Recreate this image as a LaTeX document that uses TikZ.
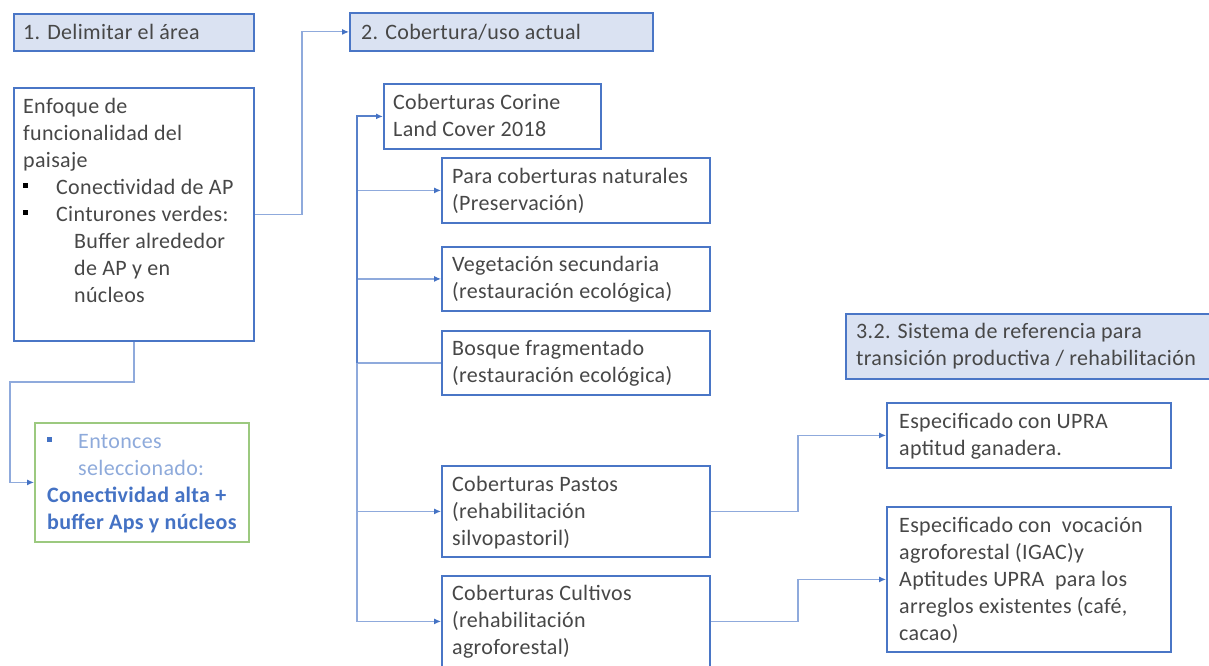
\documentclass[tikz,border=0pt]{standalone}
\usepackage{fontspec}
\setmainfont{Carlito}[LetterSpace=1.5]
\usetikzlibrary{arrows.meta,positioning,calc}
\definecolor{bord}{HTML}{4A76C6}
\definecolor{hfill}{HTML}{DAE2F2}
\definecolor{connc}{HTML}{8FAADC}
\definecolor{arrc}{HTML}{4472C4}
\definecolor{txtc}{HTML}{474747}
\definecolor{grn}{HTML}{9CC97F}
\definecolor{lblue}{HTML}{8EAADB}
\newcommand{\sqbul}[1]{\raisebox{6.5pt}{\color{#1}\rule{4.5pt}{4.5pt}}}
\begin{document}
\begin{tikzpicture}[x=1pt,y=-1pt,
  box/.style={draw=bord,line width=1.8pt,fill=white,rectangle,inner sep=0pt,anchor=north west},
  hbox/.style={box,fill=hfill},
  gbox/.style={box,draw=grn},
  txt/.style={anchor=north west,inner sep=0pt,align=left,text=txtc,font=\fontsize{22}{27}\selectfont},
  conn/.style={draw=connc,line width=1.2pt},
  arr/.style={conn,-{Latex[length=7pt,width=6pt,color=arrc]}},
  trunk/.style={draw=arrc!90,line width=2pt,-{Latex[length=7pt,width=6pt,color=arrc]}}
]
\useasboundingbox (0,0) rectangle (1209,666);
\begin{scope}
\clip (0,0) rectangle (1209,666);
% boxes
\node[hbox,minimum width=240pt,minimum height=37pt] (b1) at (13,13) {};
\node[hbox,minimum width=303pt,minimum height=38pt] (b2) at (349,12) {};
\node[box,minimum width=240pt,minimum height=253pt] (enf) at (13,87) {};
\node[gbox,minimum width=214pt,minimum height=119pt] (grn) at (34,422) {};
\node[box,minimum width=217pt,minimum height=65pt] (cor) at (383,83) {};
\node[box,minimum width=268pt,minimum height=65pt] (para) at (441,157) {};
\node[box,minimum width=268pt,minimum height=64pt] (veg) at (441,246) {};
\node[box,minimum width=268pt,minimum height=64pt] (bos) at (441,330) {};
\node[box,minimum width=268pt,minimum height=91pt] (pas) at (441,465) {};
\node[box,minimum width=268pt,minimum height=91pt] (cul) at (441,575) {};
\node[hbox,minimum width=380pt,minimum height=65pt] (ref) at (845,313) {};
\node[box,minimum width=284pt,minimum height=65pt] (upra) at (886,402) {};
\node[box,minimum width=284pt,minimum height=145pt] (voc) at (886,506) {};
% texts
\node[txt] (t1) at (23,20) {\strut 1. Delimitar el área};
\node[txt] (t2) at (361,20) {\strut 2. Cobertura/uso actual};
\node[txt] (tenf) at (23,94) {\strut Enfoque de\\funcionalidad del\\paisaje\\
\makebox[33pt][l]{\sqbul{black}}Conectividad de AP\\
\makebox[33pt][l]{\sqbul{black}}Cinturones verdes:\\
\hspace*{51pt}Buffer alrededor\\
\hspace*{51pt}de AP y en\\
\hspace*{51pt}núcleos};
\node[txt] (tgrn) at (47,429) {\strut\makebox[31pt][l]{\sqbul{arrc}}\textcolor{lblue}{Entonces}\\
\hspace*{31pt}\textcolor{lblue}{seleccionado:}\\
\textcolor{arrc}{\bfseries Conectividad alta +}\\
\textcolor{arrc}{\bfseries buffer Aps y núcleos}};
\node[txt] (tcor) at (393,90) {\strut Coberturas Corine\\Land Cover 2018};
\node[txt] (tpara) at (452,164) {\strut Para coberturas naturales\\(Preservación)};
\node[txt] (tveg) at (452,252) {\strut Vegetación secundaria\\(restauración ecológica)};
\node[txt] (tbos) at (452,336) {\strut Bosque fragmentado\\(restauración ecológica)};
\node[txt] (tpas) at (452,472) {\strut Coberturas Pastos\\(rehabilitación\\silvopastoril)};
\node[txt] (tcul) at (452,581) {\strut Coberturas Cultivos\\(rehabilitación\\agroforestal)};
\node[txt] (tref) at (856,319) {\strut 3.2. Sistema de referencia para\\transición productiva / rehabilitación};
\node[txt] (tupra) at (899,409) {\strut Especificado con UPRA\\aptitud ganadera.};
\node[txt] (tvoc) at (899,513) {\strut Especificado con\ \ vocación\\agroforestal (IGAC)y\\Aptitudes UPRA\ \ para los\\arreglos existentes (café,\\cacao)};
% coordinates
\coordinate (e1) at (302,0);
\coordinate (e2) at (0,382);
\coordinate (e3) at (10,0);
\coordinate (tr) at (357,0);
\coordinate (e4) at (798,0);
% connectors
\draw[arr] (enf.east) -- (enf.east -| e1) |- (b2.west);
\draw[arr] (enf.south) -- (enf.south |- e2) -- (e3 |- e2) |- (grn.west);
\draw[arr] (tr |- cor.west) |- (para.west);
\draw[arr] (tr |- cor.west) |- (veg.west);
\draw[conn] (tr |- cor.west) |- (bos.west);
\draw[arr] (tr |- cor.west) |- (pas.west);
\draw[arr] (tr |- cor.west) |- (cul.west);
\draw[trunk] (tr |- bos.west) -- (tr |- cor.west) -- (cor.west);
\draw[arr] (pas.east) -- (pas.east -| e4) |- (upra.west);
\draw[arr] (cul.east) -- (cul.east -| e4) |- (voc.west);
\end{scope}
\end{tikzpicture}
\end{document}
